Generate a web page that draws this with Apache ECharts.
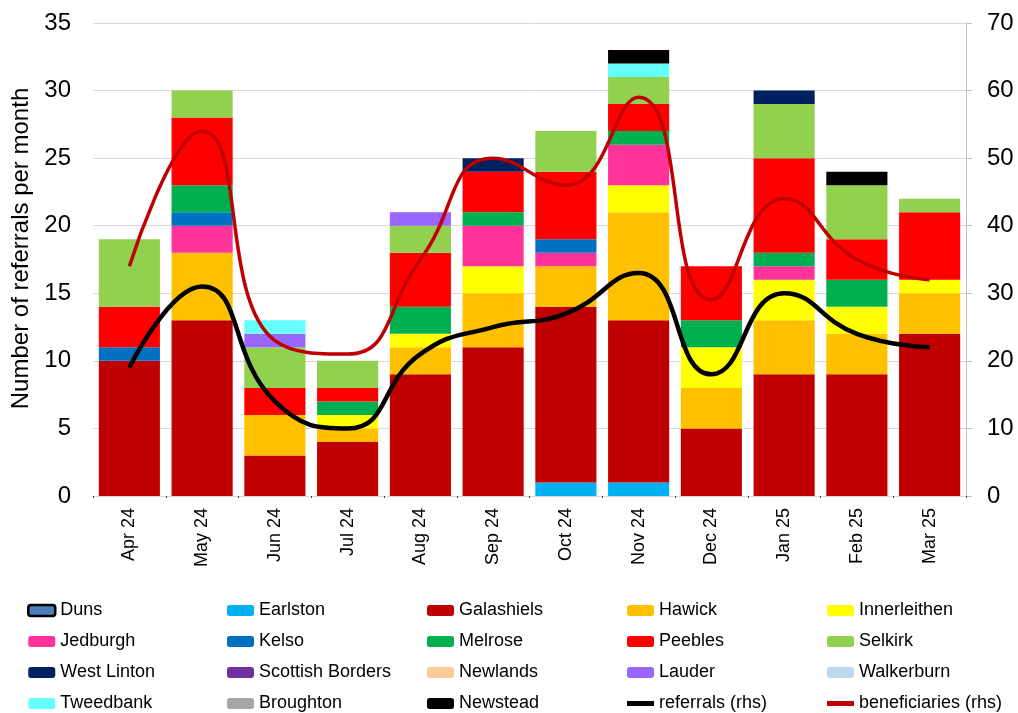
<!DOCTYPE html>
<html>
<head>
<meta charset="utf-8">
<script src="https://cdn.jsdelivr.net/npm/echarts@6/dist/echarts.min.js"></script>
<style>
  html, body { margin: 0; padding: 0; background: #ffffff; }
  #chart { width: 1018px; height: 713px; }
</style>
</head>
<body>
<div id="chart"></div>
<script>
  // months on the x axis
  var months = ['Apr 24', 'May 24', 'Jun 24', 'Jul 24', 'Aug 24', 'Sep 24', 'Oct 24', 'Nov 24', 'Dec 24', 'Jan 25', 'Feb 25', 'Mar 25']

  // referrals per month by area (lhs)
  var duns            = [0, 0, 0, 0, 0, 0, 0, 0, 0, 0, 0, 0]
  var earlston        = [0, 0, 0, 0, 0, 0, 1, 1, 0, 0, 0, 0]
  var galashiels      = [10, 13, 3, 4, 9, 11, 13, 12, 5, 9, 9, 12]
  var hawick          = [0, 5, 3, 1, 2, 4, 3, 8, 3, 4, 3, 3]
  var innerleithen    = [0, 0, 0, 1, 1, 2, 0, 2, 3, 3, 2, 1]
  var jedburgh        = [0, 2, 0, 0, 0, 3, 1, 3, 0, 1, 0, 0]
  var kelso           = [1, 1, 0, 0, 0, 0, 1, 0, 0, 0, 0, 0]
  var melrose         = [0, 2, 0, 1, 2, 1, 0, 1, 2, 1, 2, 0]
  var peebles         = [3, 5, 2, 1, 4, 3, 5, 2, 4, 7, 3, 5]
  var selkirk         = [5, 2, 3, 2, 2, 0, 3, 2, 0, 4, 4, 1]
  var westLinton      = [0, 0, 0, 0, 0, 1, 0, 0, 0, 1, 0, 0]
  var scottishBorders = [0, 0, 0, 0, 0, 0, 0, 0, 0, 0, 0, 0]
  var newlands        = [0, 0, 0, 0, 0, 0, 0, 0, 0, 0, 0, 0]
  var lauder          = [0, 0, 1, 0, 1, 0, 0, 0, 0, 0, 0, 0]
  var walkerburn      = [0, 0, 0, 0, 0, 0, 0, 0, 0, 0, 0, 0]
  var tweedbank       = [0, 0, 1, 0, 0, 0, 0, 1, 0, 0, 0, 0]
  var broughton       = [0, 0, 0, 0, 0, 0, 0, 0, 0, 0, 0, 0]
  var newstead        = [0, 0, 0, 0, 0, 0, 0, 1, 0, 0, 1, 0]

  // lines on the rhs
  var referrals     = [19, 31, 14, 10, 21, 25, 27, 33, 18, 30, 24, 22]
  var beneficiaries = [34, 54, 23, 21, 35, 50, 46, 59, 29, 44, 35, 32]

  // axis ticks
  var leftTicks = [0, 5, 10, 15, 20, 25, 30, 35]
  var rightTicks = [0, 10, 20, 30, 40, 50, 60, 70]

  var areas = [
    ['Duns', duns, '#4a7ebb'],
    ['Earlston', earlston, '#00b0f0'],
    ['Galashiels', galashiels, '#c00000'],
    ['Hawick', hawick, '#ffc000'],
    ['Innerleithen', innerleithen, '#ffff00'],
    ['Jedburgh', jedburgh, '#ff3399'],
    ['Kelso', kelso, '#0070c0'],
    ['Melrose', melrose, '#00b050'],
    ['Peebles', peebles, '#ff0000'],
    ['Selkirk', selkirk, '#92d050'],
    ['West Linton', westLinton, '#002060'],
    ['Scottish Borders', scottishBorders, '#7030a0'],
    ['Newlands', newlands, '#fbcb9a'],
    ['Lauder', lauder, '#9966ff'],
    ['Walkerburn', walkerburn, '#bdd7ee'],
    ['Tweedbank', tweedbank, '#66ffff'],
    ['Broughton', broughton, '#a6a6a6'],
    ['Newstead', newstead, '#000000']
  ]

  var series = areas.map(function (a) {
    return {
      name: a[0],
      type: 'bar',
      stack: 'areas',
      data: a[1],
      barCategoryGap: '16%',
      itemStyle: { color: a[2] }
    }
  })
  series.push({
    name: 'referrals (rhs)',
    type: 'line',
    yAxisIndex: 1,
    data: referrals,
    smooth: 0.5,
    symbol: 'none',
    z: 5,
    lineStyle: { color: '#000000', width: 4.5 },
    itemStyle: { color: '#000000' }
  })
  series.push({
    name: 'beneficiaries (rhs)',
    type: 'line',
    yAxisIndex: 1,
    data: beneficiaries,
    smooth: 0.5,
    symbol: 'none',
    z: 6,
    lineStyle: { color: '#c00000', width: 3.5 },
    itemStyle: { color: '#c00000' }
  })

  // five legend columns, four rows each
  var lineIcon = 'path://M0,0 L27,0 L27,5 L0,5 Z'
  var allNames = series.map(function (s) { return s.name })
  var colX = [22, 222, 422, 622, 822]
  var legends = colX.map(function (x, c) {
    var names = []
    for (var r = 0; r < 4; r++) {
      var n = allNames[c + r * 5]
      if (n === 'Duns') {
        names.push({ name: n, itemStyle: { borderColor: '#000000', borderWidth: 2.5 } })
      } else if (n.indexOf('(rhs)') > -1) {
        names.push({ name: n, icon: lineIcon })
      } else {
        names.push(n)
      }
    }
    return {
      orient: 'vertical',
      left: x,
      top: 595,
      height: 118,
      itemWidth: 27,
      itemHeight: 11,
      itemGap: 10,
      data: names,
      textStyle: { fontSize: 18, color: '#000', fontFamily: 'Liberation Sans', lineHeight: 21 }
    }
  })

  var chart = echarts.init(document.getElementById('chart'))
  var option = {
    animation: false,
    backgroundColor: '#ffffff',
    textStyle: { fontFamily: 'Liberation Sans' },
    grid: { left: 93, right: 52, top: 23, bottom: 217 },
    legend: legends,
    xAxis: {
      type: 'category',
      data: months,
      axisLine: { show: true, lineStyle: { color: '#d9d9d9' } },
      axisTick: { show: true, length: 2, lineStyle: { color: '#404040' } },
      axisLabel: { rotate: 90, fontSize: 18, color: '#000', margin: 12, fontFamily: 'Liberation Sans' }
    },
    yAxis: [
      {
        type: 'value',
        min: leftTicks[0],
        max: leftTicks[leftTicks.length - 1],
        interval: 5,
        name: 'Number of referrals per month',
        nameLocation: 'middle',
        nameGap: 56,
        nameTextStyle: { fontSize: 24, color: '#000', fontFamily: 'Liberation Sans', padding: [0, 0, 0, 22] },
        axisLine: { show: false },
        axisTick: { show: false },
        axisLabel: { fontSize: 24, color: '#000', margin: 22, fontFamily: 'Liberation Sans' },
        splitLine: { lineStyle: { color: '#d9d9d9', width: 1 } }
      },
      {
        type: 'value',
        min: rightTicks[0],
        max: rightTicks[rightTicks.length - 1],
        interval: 10,
        position: 'right',
        axisLine: { show: true, lineStyle: { color: '#bfbfbf' } },
        axisTick: { show: true, length: 6, lineStyle: { color: '#bfbfbf' } },
        axisLabel: { fontSize: 24, color: '#000', margin: 21, fontFamily: 'Liberation Sans' },
        splitLine: { show: false }
      }
    ],
    series: series
  }
  chart.setOption(option)
</script>
</body>
</html>
